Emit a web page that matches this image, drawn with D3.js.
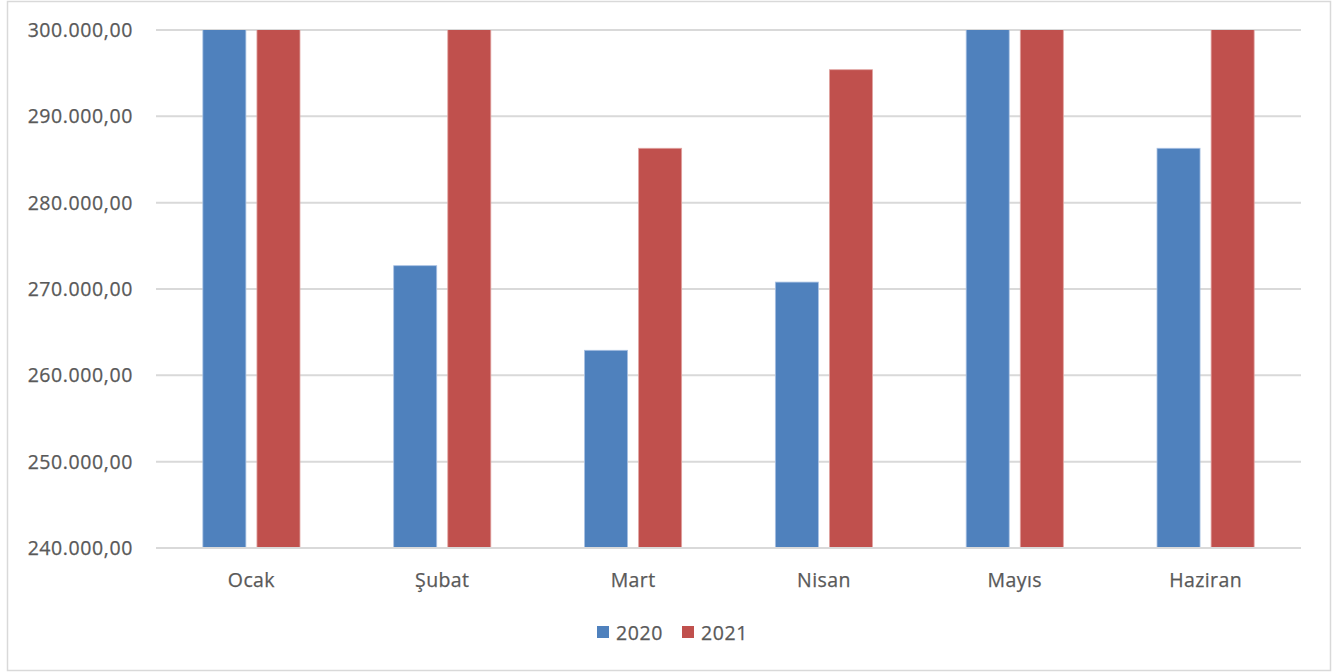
<!DOCTYPE html>
<html>
<head>
<meta charset="utf-8">
<script src="https://cdn.jsdelivr.net/npm/d3@7"></script>
<style>
  html, body { margin: 0; padding: 0; background: #fff; }
  svg { display: block; }
  text { font-family: "Open Sans", "Noto Sans", sans-serif; fill: #595959; }
</style>
</head>
<body>
<svg id="chart" width="1342" height="672"></svg>
<script>
const months = ["Ocak", "Şubat", "Mart", "Nisan", "Mayıs", "Haziran"];
const seriesNames = ["2020", "2021"];
const values2020 = [306000, 272700, 262900, 270800, 304000, 286300];
const values2021 = [312000, 308000, 286300, 295400, 311000, 309000];
const yTicks = [240000, 250000, 260000, 270000, 280000, 290000, 300000];
const colors = ["#4F81BD", "#C0504D"];

const svg = d3.select("#chart");
const plot = { left: 156, right: 1301, top: 30, bottom: 548 };

// outer border
svg.append("rect").attr("x", 7.5).attr("y", 1.5).attr("width", 1323).attr("height", 669)
  .attr("fill", "#fff").attr("stroke", "#d9d9d9").attr("stroke-width", 1.5);

const x = d3.scaleBand().domain(months).range([plot.left, plot.right]).paddingInner(0).paddingOuter(0);
const y = d3.scaleLinear().domain([240000, 300000]).range([plot.bottom, plot.top]);

const fmt = v => d3.format(",.2f")(v).replace(/,/g, "#").replace(/\./g, ",").replace(/#/g, ".");

// gridlines
svg.append("g").selectAll("line").data(yTicks).join("line")
  .attr("x1", plot.left).attr("x2", plot.right)
  .attr("y1", d => y(d)).attr("y2", d => y(d))
  .attr("stroke", "#d9d9d9").attr("stroke-width", 2);

// y tick labels
svg.append("g").selectAll("text").data(yTicks).join("text")
  .attr("x", 133).attr("y", d => y(d)).attr("dy", "0.36em")
  .attr("text-anchor", "end").attr("font-size", 19.5).attr("letter-spacing", 0.6)
  .attr("stroke", "#595959").attr("stroke-width", 0.25)
  .text(d => fmt(d));

// clip
svg.append("clipPath").attr("id", "plotclip").append("rect")
  .attr("x", plot.left).attr("y", plot.top).attr("width", plot.right - plot.left).attr("height", plot.bottom - plot.top);

const step = x.bandwidth();
const bw = step * 0.2255;
const gap = step * 0.058;
const groupW = 2 * bw + gap;
const sub = d3.scaleOrdinal().domain(seriesNames).range([(step - groupW) / 2, (step - groupW) / 2 + bw + gap]);

const data = [];
months.forEach((m, i) => {
  data.push({ m, s: "2020", v: values2020[i] });
  data.push({ m, s: "2021", v: values2021[i] });
});

svg.append("g").attr("clip-path", "url(#plotclip)")
  .selectAll("rect").data(data).join("rect")
  .attr("x", d => x(d.m) + sub(d.s))
  .attr("width", bw)
  .attr("y", d => y(d.v))
  .attr("height", d => y(240000) - y(d.v))
  .attr("fill", d => colors[seriesNames.indexOf(d.s)])
  .attr("stroke", d => d.s === "2020" ? "#a9c1e3" : "#e0a3a1")
  .attr("stroke-width", 0.8);

// bottom axis line on top
svg.append("line").attr("x1", plot.left).attr("x2", plot.right)
  .attr("y1", y(240000)).attr("y2", y(240000))
  .attr("stroke", "#d9d9d9").attr("stroke-width", 2);

// category labels
svg.append("g").selectAll("text").data(months).join("text")
  .attr("x", d => x(d) + step / 2).attr("y", 587)
  .attr("text-anchor", "middle").attr("font-size", 19.5).attr("letter-spacing", 0.4)
  .attr("stroke", "#595959").attr("stroke-width", 0.25)
  .text(d => d);

// legend
const legend = svg.append("g");
const legendX = [597, 682];
seriesNames.forEach((s, i) => {
  legend.append("rect").attr("x", legendX[i]).attr("y", 626).attr("width", 12).attr("height", 12)
    .attr("fill", colors[i]);
  legend.append("text").attr("x", legendX[i] + 19).attr("y", 640)
    .attr("font-size", 19.5).attr("letter-spacing", 0.6)
    .attr("stroke", "#595959").attr("stroke-width", 0.25).text(s);
});
</script>
</body>
</html>
